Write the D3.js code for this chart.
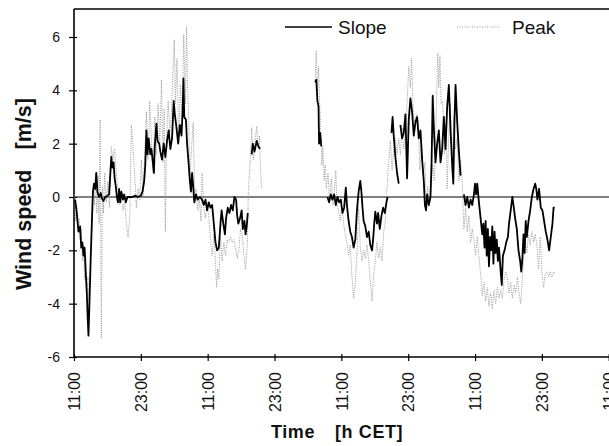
<!DOCTYPE html>
<html>
<head>
<meta charset="utf-8">
<script src="https://cdn.jsdelivr.net/npm/d3@7"></script>
<style>
  body { margin: 0; background: #fff; }
  svg { display: block; font-family: Arial, "Liberation Sans", Helvetica, sans-serif; }
</style>
</head>
<body>
<script>
// Hours after the first 11:00 CET tick, wind speed in m/s (null = gap in the record)
const slope = [
  [0.2,-0.1],[0.5,-0.6],[0.8,-1.3],[1.1,-1.1],[1.3,-1.9],[1.5,-1.7],[1.7,-2.2],[1.9,-1.9],
  [2.1,-2.8],[2.3,-3.6],[2.45,-4.5],[2.6,-5.2],[2.8,-3.8],[3.0,-2.3],[3.2,-1.0],[3.4,0.2],
  [3.6,0.5],[3.8,0.3],[4.0,0.9],[4.2,0.2],[4.5,0.0],[4.8,0.15],[5.0,-0.05],[5.3,-0.15],
  [5.6,0.0],[6.0,0.05],[6.3,0.1],[6.5,0.8],[6.7,1.5],[6.9,1.1],[7.1,1.3],[7.3,0.7],
  [7.5,0.4],[7.7,0.0],[7.9,-0.2],[8.1,0.3],[8.3,-0.2],[8.5,0.2],[8.8,-0.1],[9.0,0.1],
  [9.3,-0.2],[9.6,0.0],[10.0,0.0],[10.5,0.0],[11.0,0.05],[11.5,0.0],[12.0,0.05],[12.3,0.2],
  [12.6,0.6],[12.8,1.2],[13.0,2.5],[13.2,1.6],[13.4,2.2],[13.7,1.6],[13.9,1.8],[14.2,1.2],
  [14.35,0.9],[14.5,1.9],[14.8,2.75],[15.0,2.1],[15.3,2.0],[15.5,1.7],[15.8,1.4],[16.1,2.0],
  [16.4,1.5],[16.7,2.1],[17.0,2.5],[17.3,1.8],[17.6,2.2],[17.9,3.6],[18.1,3.1],[18.4,2.6],
  [18.7,2.0],[19.0,2.7],[19.3,2.3],[19.5,3.2],[19.65,4.45],[19.8,3.0],[20.1,2.9],[20.3,2.0],
  [20.6,1.2],[20.8,0.6],[21.0,0.2],[21.2,0.9],[21.4,0.4],[21.6,-0.2],[21.9,0.1],[22.2,-0.1],
  [22.6,0.0],[23.0,-0.1],[23.3,-0.3],[23.6,-0.1],[23.9,-0.5],[24.2,-0.2],[24.5,-0.4],[24.8,-0.3],
  [25.1,-1.0],[25.4,-1.7],[25.7,-2.0],[26.0,-1.9],[26.3,-1.0],[26.5,-0.5],[26.8,-1.0],[27.1,-1.4],
  [27.3,-0.8],[27.6,-0.4],[27.9,-0.6],[28.2,-0.3],[28.5,-0.5],[28.8,0.0],[29.1,-0.1],[29.3,-0.7],
  [29.5,-1.0],[29.8,-0.8],[30.1,-0.5],[30.3,-1.2],[30.6,-0.9],[30.8,-1.4],[31.0,-1.1],[31.2,-0.6],
  [31.4,null],
  [31.9,1.6],[32.1,2.0],[32.4,1.7],[32.8,2.1],[33.1,1.9],[33.4,1.8],
  [33.6,null],
  [43.3,4.3],[43.5,4.4],[43.7,3.6],[43.9,3.4],[44.0,2.0],[44.2,2.4],[44.4,1.9],
  [44.8,null],
  [45.5,0.0],[45.8,-0.2],[46.1,0.1],[46.4,-0.1],[46.7,0.1],[47.0,-0.3],[47.3,0.0],[47.6,-0.2],
  [47.9,-0.1],[48.2,-0.6],[48.5,-0.4],[48.8,0.35],[49.0,-0.3],[49.3,-0.9],[49.6,-1.3],[49.9,-1.5],
  [50.2,-1.9],[50.5,-1.6],[50.8,-0.5],[51.1,0.2],[51.4,0.6],[51.6,0.2],[51.8,-0.4],[52.0,-0.9],
  [52.3,-1.1],[52.6,-1.5],[52.9,-1.3],[53.2,-1.8],[53.5,-2.0],[53.7,-1.6],[53.9,-1.0],[54.1,-0.55],
  [54.4,-1.0],[54.6,-0.6],[54.9,-1.2],[55.2,-0.7],[55.5,-0.4],[55.8,-0.6],[56.1,-0.2],[56.3,0.0],
  [56.6,null],
  [57.0,2.4],[57.2,3.0],[57.4,2.3],[57.7,1.5],[58.0,0.9],[58.3,0.5],
  [58.45,null],
  [58.6,2.7],[58.9,2.2],[59.2,2.4],[59.5,3.1],[59.8,0.7],[60.1,2.9],[60.4,3.7],[60.7,3.2],
  [61.0,2.3],[61.3,2.8],[61.6,3.0],[61.9,2.2],[62.2,2.5],[62.5,1.4],[62.8,0.6],[63.0,-0.3],
  [63.2,-0.5],[63.4,0.1],[63.7,-0.3],[64.0,0.0],[64.2,1.3],[64.4,3.8],[64.6,2.6],[64.9,1.3],
  [65.2,2.0],[65.5,2.5],[65.8,1.3],[66.1,1.8],[66.4,3.0],[66.7,1.8],[67.0,3.4],[67.3,4.2],
  [67.6,2.5],[67.9,1.2],[68.1,0.5],[68.3,2.8],[68.5,4.2],[68.8,2.8],[69.1,1.7],[69.4,0.8],
  [69.7,null],
  [70.0,0.1],[70.3,-0.3],[70.6,0.0],[70.9,-0.4],[71.2,-0.1],[71.5,-0.3],[71.8,0.1],[72.0,0.5],
  [72.2,0.1],[72.4,0.5],[72.7,-0.2],[73.0,-0.8],[73.3,-1.4],[73.5,-1.0],[73.7,-1.9],[73.9,-0.9],
  [74.1,-2.2],[74.3,-1.2],[74.5,-2.6],[74.7,-1.5],[74.9,-2.0],[75.1,-1.1],[75.3,-2.5],[75.5,-1.3],
  [75.7,-2.1],[75.9,-1.6],[76.1,-2.4],[76.3,-1.9],[76.6,-2.8],[76.8,-3.3],[77.0,-2.2],[77.3,-2.0],
  [77.6,-1.7],[77.9,-1.5],[78.1,-1.0],[78.4,-0.5],[78.7,0.0],[78.9,-0.3],[79.2,-0.8],[79.5,-1.2],
  [79.8,-2.0],[80.1,-2.4],[80.3,-2.8],[80.5,-2.3],[80.7,-1.4],[80.9,-2.1],[81.1,-0.9],[81.3,-1.5],
  [81.6,-0.9],[81.9,-0.5],[82.2,0.0],[82.5,0.3],[82.8,0.5],[83.0,0.3],[83.2,-0.1],[83.5,0.3],
  [83.8,-0.4],[84.1,-0.5],[84.4,-0.9],[84.7,-1.3],[85.0,-1.6],[85.3,-2.0],[85.6,-1.5],[85.9,-1.0],
  [86.1,-0.4],[86.3,-0.4]
];

const peak = [
  [0.1,0.1],[0.3,-0.9],[0.5,-0.3],[0.7,-1.2],[0.9,-0.8],[1.1,-1.6],[1.3,-1.2],[1.5,-2.4],
  [1.7,-1.8],[1.9,-3.1],[2.1,-2.2],[2.3,-3.6],[2.5,-3.0],[2.7,-4.2],[2.9,-2.8],[3.1,-1.6],
  [3.3,-0.2],[3.5,0.5],[3.7,-0.3],[3.9,0.9],[4.1,-0.6],[4.3,0.8],[4.5,-1.0],[4.7,2.9],
  [4.9,-5.3],[5.1,0.4],[5.3,-0.6],[5.5,0.9],[5.8,-0.2],[6.1,0.6],[6.4,-0.4],[6.7,1.9],
  [7.0,1.4],[7.3,1.8],[7.6,0.9],[7.9,0.2],[8.2,-0.3],[8.5,0.1],[8.8,-0.5],[9.1,-0.2],
  [9.4,-1.0],[9.7,-1.5],[10.0,-0.8],[10.3,2.7],[10.6,1.9],[10.9,0.8],[11.2,-0.4],[11.5,0.3],
  [11.8,-0.1],[12.1,1.4],[12.4,0.0],[12.7,1.7],[13.0,3.2],[13.3,1.4],[13.6,3.6],[13.9,2.1],
  [14.2,0.9],[14.5,3.0],[14.8,1.6],[15.1,3.5],[15.4,2.0],[15.7,4.4],[16.0,1.3],[16.2,3.3],
  [16.4,-1.3],[16.6,2.0],[16.9,3.6],[17.2,2.4],[17.5,3.2],[17.8,4.9],[18.0,5.9],[18.2,3.5],
  [18.5,5.2],[18.8,2.0],[19.1,4.2],[19.4,2.9],[19.7,6.1],[20.0,3.5],[20.2,6.4],[20.4,4.0],
  [20.6,2.9],[20.8,0.6],[21.0,1.5],[21.4,2.8],[21.7,-0.2],[21.9,0.3],[22.2,-0.5],[22.5,-0.1],
  [22.8,-0.9],[23.0,0.9],[23.3,-0.4],[23.6,-0.8],[23.9,-0.2],[24.2,-0.7],[24.5,-1.6],[24.8,-2.2],
  [25.1,-1.4],[25.4,-2.5],[25.6,-3.4],[25.8,-2.7],[26.0,-3.1],[26.3,-1.5],[26.6,-2.4],[26.9,-1.7],
  [27.2,-2.2],[27.5,-1.6],[27.8,-1.7],[28.1,-1.5],[28.4,-1.7],[28.7,-1.6],[29.0,-1.9],[29.3,-2.3],
  [29.6,-2.0],[29.9,-1.2],[30.2,-1.4],[30.5,-2.2],[30.8,-2.7],[31.1,-1.9],[31.3,0.2],[31.6,1.2],
  [31.9,2.6],[32.2,1.4],[32.5,2.1],[32.8,2.65],[33.1,1.8],[33.3,2.3],[33.5,1.0],[33.7,0.3],
  [34.0,null],
  [43.3,4.5],[43.5,5.5],[43.7,3.8],[43.9,4.9],[44.1,3.5],[44.3,2.5],[44.5,1.2],[44.7,1.9],
  [44.9,0.6],[45.1,1.2],[45.3,0.3],[45.6,0.9],[45.9,-0.2],[46.2,0.7],[46.5,-0.3],[46.8,0.4],
  [47.0,1.0],[47.2,-0.2],[47.5,-0.5],[47.8,-0.9],[48.1,-0.4],[48.4,-1.0],[48.7,-1.4],[49.0,-1.7],
  [49.3,-2.2],[49.6,-1.8],[49.9,-3.0],[50.2,-3.8],[50.5,-3.2],[50.8,-2.2],[51.1,-0.4],[51.4,-1.9],
  [51.7,-2.4],[52.0,-2.0],[52.3,-2.3],[52.6,-1.8],[52.9,-2.4],[53.2,-3.2],[53.5,-3.9],[53.8,-2.9],
  [54.1,-2.4],[54.4,-1.7],[54.7,-2.3],[55.0,-1.9],[55.3,-2.4],[55.6,-1.3],[55.9,-0.9],[56.1,0.0],
  [56.3,0.7],[56.5,1.3],[56.8,2.1],[57.1,1.0],[57.4,1.8],[57.7,2.2],[58.0,1.6],[58.3,2.2],
  [58.6,1.6],[58.9,2.6],[59.2,1.8],[59.5,2.4],[59.8,3.5],[60.1,4.9],[60.4,4.1],[60.6,5.2],
  [60.9,3.2],[61.2,2.8],[61.5,3.1],[61.8,2.8],[62.1,1.0],[62.4,2.0],[62.7,0.8],[63.0,1.3],
  [63.2,-0.3],[63.5,0.4],[63.8,-0.3],[64.1,0.3],[64.4,1.2],[64.7,0.6],[65.0,2.9],[65.3,5.4],
  [65.5,4.1],[65.7,5.3],[65.9,3.5],[66.2,3.6],[66.5,1.6],[66.8,2.8],[67.0,0.3],[67.3,2.5],
  [67.6,3.5],[67.9,1.0],[68.2,3.0],[68.5,1.8],[68.8,2.2],[69.1,0.6],[69.4,1.4],[69.7,0.6],
  [70.0,-1.2],[70.3,-0.4],[70.6,-1.3],[70.9,-0.7],[71.2,-1.7],[71.5,-1.2],[71.8,-1.6],[72.1,-2.2],
  [72.4,-1.5],[72.7,-2.2],[73.0,-2.9],[73.3,-3.7],[73.6,-3.2],[73.9,-3.9],[74.2,-3.4],[74.5,-4.1],
  [74.8,-3.6],[75.1,-4.2],[75.4,-3.5],[75.7,-4.0],[76.0,-3.4],[76.3,-3.8],[76.6,-3.5],[76.9,-3.8],
  [77.2,-3.1],[77.5,-2.8],[77.8,-3.0],[78.1,-3.6],[78.4,-3.2],[78.7,-3.8],[79.0,-3.3],[79.3,-3.6],
  [79.6,-3.0],[79.9,-3.6],[80.2,-4.0],[80.4,-3.4],[80.7,-2.4],[81.0,-1.6],[81.3,-2.1],[81.6,-1.4],
  [81.9,-1.8],[82.2,-1.3],[82.5,-1.7],[82.8,-1.4],[83.1,-1.8],[83.4,-2.7],[83.7,-1.5],[84.0,-2.8],
  [84.3,-3.4],[84.6,-2.9],[84.9,-2.8],[85.2,-3.0],[85.5,-2.8],[85.8,-3.0],[86.1,-2.8],[86.3,-2.9]
];

const yTicks = [-6, -4, -2, 0, 2, 4, 6];
const xTickHours = [0, 12, 24, 36, 48, 60, 72, 84, 96];
const xTickLabels = ["11:00", "23:00", "11:00", "23:00", "11:00", "23:00", "11:00", "23:00", "11:00"];
const seriesNames = ["Slope", "Peak"];

// Margin convention; the plot runs off the right edge of the picture
const margin = { top: 9, right: -22, bottom: 89, left: 74 };
const outerWidth = 609;
const outerHeight = 446;
const width = outerWidth - margin.left - margin.right;
const height = outerHeight - margin.top - margin.bottom;

const svg = d3.select("body").append("svg")
  .attr("width", outerWidth)
  .attr("height", outerHeight);

const g = svg.append("g")
  .attr("transform", `translate(${margin.left},${margin.top})`);

const x = d3.scaleLinear().domain([0, 100]).range([0, width]);
const y = d3.scaleLinear().domain([-6, 7.05]).range([height, 0]);

g.append("clipPath").attr("id", "plot-clip")
  .append("rect").attr("width", width).attr("height", height);

// Bottom axis with rotated time labels
const xAxis = g.append("g")
  .attr("transform", `translate(0,${height})`)
  .call(d3.axisBottom(x).tickValues(xTickHours).tickFormat((d, i) => xTickLabels[i]).tickSizeOuter(0));
xAxis.select(".domain").remove();
xAxis.selectAll(".tick line").attr("y1", -3).attr("y2", 4).attr("stroke-width", 1.2);
xAxis.selectAll(".tick text")
  .attr("transform", "rotate(-90)")
  .attr("x", -15).attr("y", 0).attr("dy", "0.36em")
  .attr("text-anchor", "end")
  .style("font-size", "16px")
  .style("font-family", "Arial, 'Liberation Sans', sans-serif")
  .attr("fill", "#111");

// Left axis
const yAxis = g.append("g")
  .call(d3.axisLeft(y).tickValues(yTicks).tickFormat(d => String(d)).tickSize(6).tickPadding(8).tickSizeOuter(0));
yAxis.select(".domain").remove();
yAxis.selectAll(".tick line").attr("x1", 3).attr("x2", -5).attr("stroke-width", 1.2);
yAxis.selectAll(".tick text")
  .style("font-size", "14px")
  .style("font-family", "Arial, 'Liberation Sans', sans-serif")
  .attr("fill", "#111");

// Frame lines (left, bottom, top) and the zero line
g.append("line").attr("x1", 0).attr("x2", 0).attr("y1", 0).attr("y2", height + 0.5)
  .attr("stroke", "#000").attr("stroke-width", 1.6);
g.append("line").attr("x1", 0).attr("x2", width).attr("y1", height).attr("y2", height)
  .attr("stroke", "#000").attr("stroke-width", 1.6);
g.append("line").attr("x1", 0).attr("x2", width).attr("y1", 0).attr("y2", 0)
  .attr("stroke", "#000").attr("stroke-width", 1.4);
g.append("line").attr("x1", 0).attr("x2", width).attr("y1", y(0)).attr("y2", y(0))
  .attr("stroke", "#000").attr("stroke-width", 1.2);

const line = d3.line()
  .defined(d => d[1] !== null)
  .x(d => x(d[0]))
  .y(d => y(d[1]));

const plot = g.append("g").attr("clip-path", "url(#plot-clip)");

plot.append("path")
  .datum(peak)
  .attr("fill", "none")
  .attr("stroke", "#999")
  .attr("stroke-width", 1)
  .attr("stroke-dasharray", "1,1.3")
  .attr("d", line);

plot.append("path")
  .datum(slope)
  .attr("fill", "none")
  .attr("stroke", "#000")
  .attr("stroke-width", 1.8)
  .attr("stroke-linejoin", "round")
  .attr("d", line);

// Legend
const legend = svg.append("g").style("font-size", "19px").attr("fill", "#111");
legend.append("line").attr("x1", 285).attr("x2", 332).attr("y1", 27).attr("y2", 27)
  .attr("stroke", "#000").attr("stroke-width", 1.5);
legend.append("text").attr("x", 338).attr("y", 33.5).text(seriesNames[0]);
legend.append("line").attr("x1", 457).attr("x2", 500).attr("y1", 27).attr("y2", 27)
  .attr("stroke", "#999").attr("stroke-width", 1).attr("stroke-dasharray", "1,1.5");
legend.append("text").attr("x", 512).attr("y", 33.5).text(seriesNames[1]);

// Axis titles
const yTitle = svg.append("text")
  .attr("transform", "translate(31,290) rotate(-90)")
  .style("font-size", "21.5px").style("font-weight", "bold").attr("fill", "#111");
yTitle.append("tspan").text("Wind speed");
yTitle.append("tspan").attr("dx", 20).text("[m/s]");

const xTitle = svg.append("text")
  .attr("y", 438)
  .style("font-size", "18px").style("font-weight", "bold")
  .style("letter-spacing", "0.6px").attr("fill", "#111");
xTitle.append("tspan").attr("x", 271).text("Time");
xTitle.append("tspan").attr("x", 335).text("[h CET]");
</script>
</body>
</html>
